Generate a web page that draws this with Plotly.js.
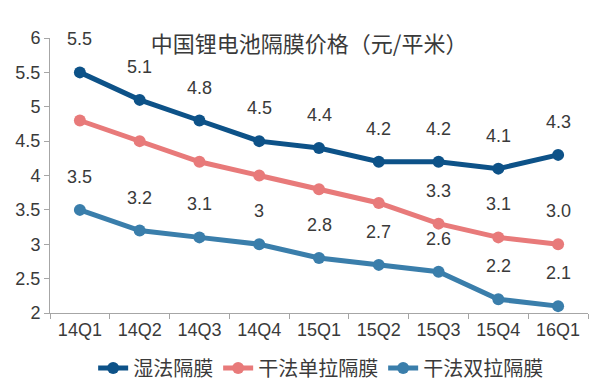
<!DOCTYPE html>
<html>
<head>
<meta charset="utf-8">
<script src="https://cdn.plot.ly/plotly-3.0.1.min.js"></script>
<style>html,body{margin:0;padding:0;background:#fff;}#chart{width:605px;height:389px;}</style>
</head>
<body>
<div id="chart"></div>
<script>
const categories = ["14Q1","14Q2","14Q3","14Q4","15Q1","15Q2","15Q3","15Q4","16Q1"];
const wetValues = [5.5, 5.1, 4.8, 4.5, 4.4, 4.2, 4.2, 4.1, 4.3];
const wetLabels = ["5.5","5.1","4.8","4.5","4.4","4.2","4.2","4.1","4.3"];
const dryUniValues = [4.8, 4.5, 4.2, 4.0, 3.8, 3.6, 3.3, 3.1, 3.0];
const dryUniLabels = [null, null, null, null, null, null, "3.3", "3.1", "3.0"];
const dryBiValues = [3.5, 3.2, 3.1, 3.0, 2.8, 2.7, 2.6, 2.2, 2.1];
const dryBiLabels = ["3.5","3.2","3.1","3","2.8","2.7","2.6","2.2","2.1"];
const seriesNames = ["湿法隔膜","干法单拉隔膜","干法双拉隔膜"];
const titleText = "中国锂电池隔膜价格（元/平米）";

const colors = ["#0d5288", "#e87a7a", "#3a7eab"];
const font = "Liberation Sans, Arial, Noto Sans CJK SC, sans-serif";

const valueSets = [wetValues, dryUniValues, dryBiValues];
const labelSets = [wetLabels, dryUniLabels, dryBiLabels];

const traces = valueSets.map((vals, k) => ({
  type: "scatter",
  mode: "lines+markers",
  name: seriesNames[k],
  x: categories,
  y: vals,
  line: {color: colors[k], width: 5},
  marker: {color: colors[k], size: 12},
  cliponaxis: false
}));

const annotations = [];
labelSets.forEach((labels, k) => {
  labels.forEach((t, i) => {
    if (t === null) return;
    annotations.push({
      x: categories[i], y: valueSets[k][i], xref: "x", yref: "y",
      text: t, showarrow: false, yshift: 33,
      font: {family: font, size: 18, color: "#3a3a3a"}
    });
  });
});

const layout = {
  width: 605, height: 389,
  margin: {l: 50, r: 17, t: 38, b: 76},
  paper_bgcolor: "#ffffff", plot_bgcolor: "#ffffff",
  showlegend: true,
  title: {
    text: titleText, xref: "container", yref: "container",
    x: 0.511, xanchor: "center", y: 0.887, yanchor: "middle",
    font: {family: "Noto Sans CJK SC, sans-serif", size: 22, color: "#3a3a3a"}
  },
  xaxis: {
    type: "category", range: [-0.5, 8.5],
    showline: true, linecolor: "#a6a6a6", linewidth: 1,
    ticks: "outside", tickson: "boundaries", ticklen: 5, tickcolor: "#a6a6a6",
    showgrid: false, zeroline: false,
    tickfont: {family: font, size: 18, color: "#3a3a3a"}
  },
  yaxis: {
    range: [2, 6], dtick: 0.5, tick0: 2,
    showline: true, linecolor: "#a6a6a6", linewidth: 1,
    ticks: "outside", ticklen: 5, tickcolor: "#a6a6a6",
    showgrid: false, zeroline: false,
    tickfont: {family: font, size: 18, color: "#3a3a3a"}
  },
  legend: {
    orientation: "h", x: 0.53, xanchor: "center", xref: "container",
    y: 0.054, yref: "container", yanchor: "middle",
    font: {family: "Noto Sans CJK SC, sans-serif", size: 20, color: "#3a3a3a"},
    itemwidth: 30, tracegroupgap: 0
  },
  annotations: annotations
};

Plotly.newPlot("chart", traces, layout, {displayModeBar: false, staticPlot: true});
</script>
</body>
</html>
